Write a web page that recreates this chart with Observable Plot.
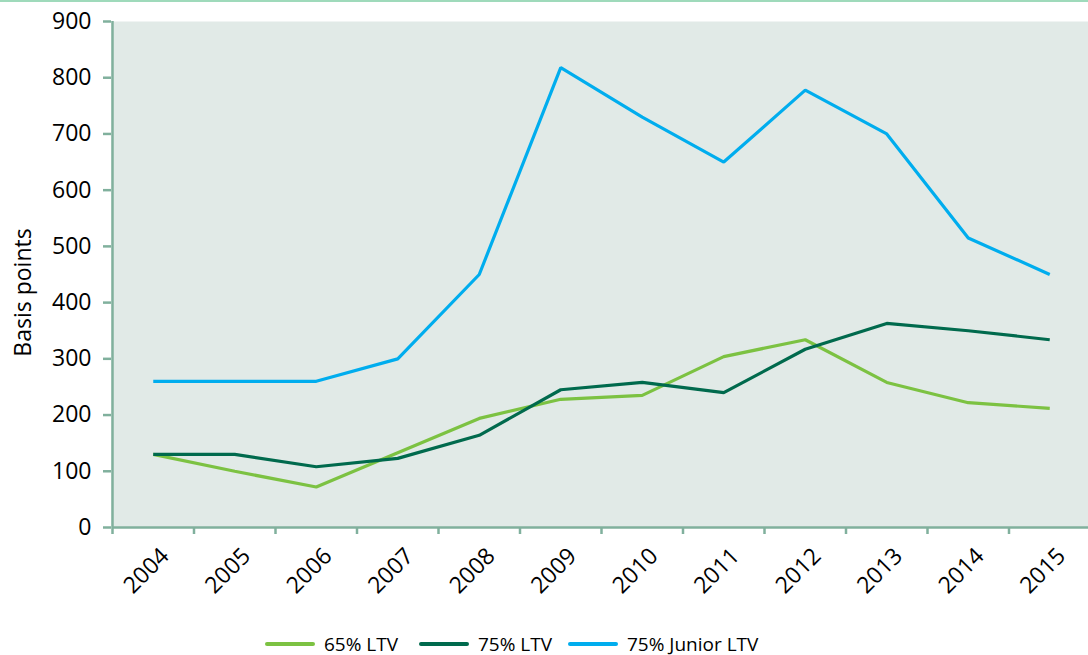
<!DOCTYPE html>
<html>
<head>
<meta charset="utf-8">
<script src="https://cdn.jsdelivr.net/npm/d3@7"></script>
<script src="https://cdn.jsdelivr.net/npm/@observablehq/plot@0.6"></script>
<style>
  html, body { margin: 0; padding: 0; background: #fff; width: 1088px; height: 655px; overflow: hidden; }
  body { position: relative; font-family: "Open Sans", "Noto Sans", sans-serif; }
  #topline { position: absolute; left: 0; top: 0; width: 1088px; height: 2px; background: #9fdabb; }
  #chart { position: absolute; left: 0; top: 0; }
  #legend { position: absolute; left: 0; top: 633px; width: 1088px; height: 22px; font-size: 19px; color: #000; line-height: 22px; }
  .item { position: absolute; top: 0; display: flex; align-items: center; height: 22px; white-space: nowrap; }
  .sw { width: 50px; height: 4px; border-radius: 2px; margin-right: 9px; }
</style>
</head>
<body>
<div id="chart"></div>
<div id="topline"></div>
<div id="legend"></div>
<script>
const years = [2004, 2005, 2006, 2007, 2008, 2009, 2010, 2011, 2012, 2013, 2014, 2015];
const ltv65 = [130, 100, 72, 133, 194, 228, 235, 304, 334, 258, 222, 212];
const ltv75 = [130, 130, 108, 123, 164, 245, 258, 240, 317, 363, 350, 334];
const junior75 = [260, 260, 260, 300, 450, 818, 730, 650, 778, 700, 515, 450];
const seriesNames = ["65% LTV", "75% LTV", "75% Junior LTV"];
const seriesColors = ["#7cc242", "#006a4d", "#00adee"];
const yTicks = [0, 100, 200, 300, 400, 500, 600, 700, 800, 900];
const yLabel = "Basis points";

const seriesValues = [ltv65, ltv75, junior75];
const data = [];
seriesNames.forEach((name, i) => {
  years.forEach((yr, j) => data.push({series: name, year: yr, value: seriesValues[i][j]}));
});
const boundaries = years.map(y => y - 0.5).concat([years[years.length - 1] + 0.5]);

const axisColor = "#80b09d";
const W = 1088, H = 620;

const chart = Plot.plot({
  width: W,
  height: H,
  marginLeft: 111,
  marginRight: 0,
  marginTop: 21,
  marginBottom: H - 527,
  style: { fontFamily: "'Open Sans', 'Noto Sans', sans-serif", fontSize: "23px", color: "#000", background: "transparent" },
  x: { type: "linear", domain: [boundaries[0], boundaries[boundaries.length - 1]], range: [112, 1090], label: null },
  y: { domain: [0, 900], label: null },
  color: { domain: seriesNames, range: seriesColors },
  marks: [
    Plot.frame({ fill: "#e1eae7", stroke: null }),
    Plot.axisY({ ticks: yTicks, tickSize: 8, tickFormat: () => "", stroke: axisColor, strokeWidth: 2.5, label: null }),
    Plot.text(yTicks, { x: boundaries[0], y: d => d, text: d => String(d), textAnchor: "end", lineAnchor: "middle", dx: -21, fontSize: 23, fill: "#000" }),
    Plot.axisX({ ticks: boundaries, tickSize: 7, tickFormat: () => "", stroke: axisColor, strokeWidth: 2.5, label: null }),
    Plot.ruleX([boundaries[0]], { stroke: axisColor, strokeWidth: 2.5, y1: 0, y2: 900 }),
    Plot.ruleY([0], { stroke: axisColor, strokeWidth: 2.5, x1: boundaries[0], x2: boundaries[boundaries.length - 1] }),
    Plot.text(years, { x: d => d, frameAnchor: "bottom", text: d => String(d), rotate: -45, textAnchor: "end", lineAnchor: "bottom", dx: 17, dy: 30, fontSize: 23, fill: "#000" }),
    Plot.text([yLabel], { frameAnchor: "left", text: d => d, rotate: -90, textAnchor: "middle", lineAnchor: "middle", dx: -88, dy: 18, fontSize: 23, fill: "#000" }),
    Plot.line(data, { x: "year", y: "value", stroke: "series", z: "series", strokeWidth: 3.2, strokeLinejoin: "miter", strokeLinecap: "butt" })
  ]
});
document.getElementById("chart").appendChild(chart);

const legend = document.getElementById("legend");
const legendLefts = [265, 419, 568];
seriesNames.forEach((name, i) => {
  const item = document.createElement("div");
  item.className = "item";
  item.style.left = legendLefts[i] + "px";
  const sw = document.createElement("div");
  sw.className = "sw";
  sw.style.background = seriesColors[i];
  const t = document.createElement("span");
  t.textContent = name;
  item.appendChild(sw);
  item.appendChild(t);
  legend.appendChild(item);
});
</script>
</body>
</html>
